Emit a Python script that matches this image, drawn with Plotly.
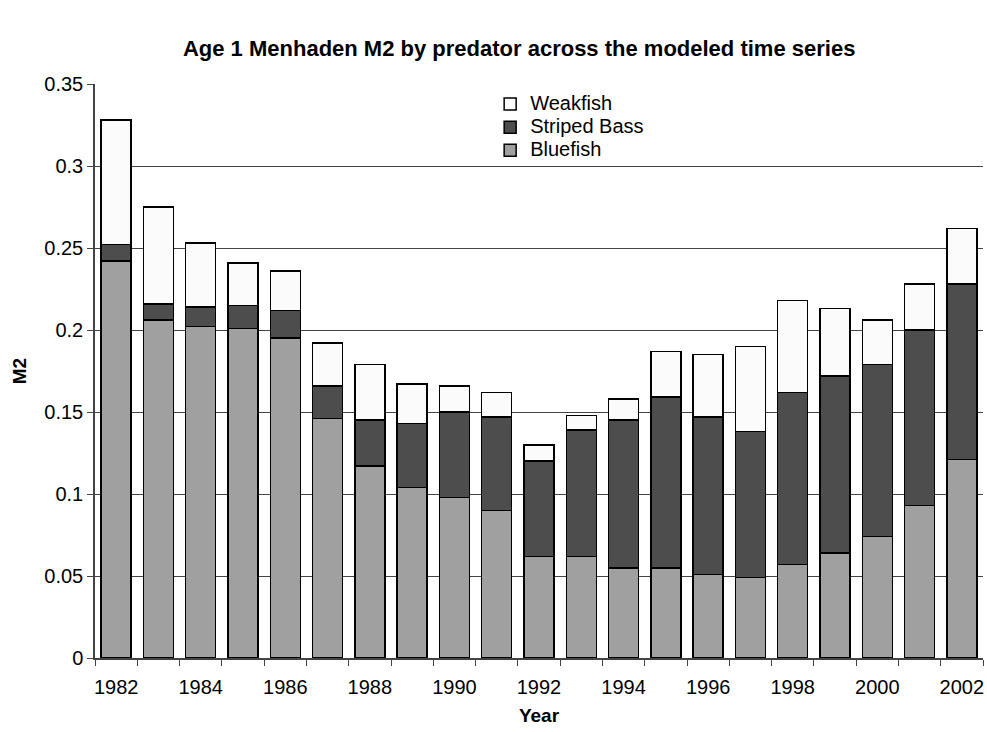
import plotly.graph_objects as go

# Age-1 menhaden predation mortality (M2) by predator, 1982-2002
years = list(range(1982, 2003))
bluefish = [0.242, 0.206, 0.202, 0.201, 0.195, 0.146, 0.117, 0.104, 0.098, 0.090,
            0.062, 0.062, 0.055, 0.055, 0.051, 0.049, 0.057, 0.064, 0.074, 0.093, 0.121]
striped_bass = [0.010, 0.010, 0.012, 0.014, 0.017, 0.020, 0.028, 0.039, 0.052, 0.057,
                0.058, 0.077, 0.090, 0.104, 0.096, 0.089, 0.105, 0.108, 0.105, 0.107, 0.107]
weakfish = [0.076, 0.059, 0.039, 0.026, 0.024, 0.026, 0.034, 0.024, 0.016, 0.015,
            0.010, 0.009, 0.013, 0.028, 0.038, 0.052, 0.056, 0.041, 0.027, 0.028, 0.034]
tick_years = list(range(1982, 2003, 2))
tick_labels = [str(y) for y in tick_years]

font_family = "Liberation Sans, Arial, sans-serif"
outline = dict(color="#000000", width=1.5)


def legend_label(text):
    # larger glyphs inside a compact legend row
    return f'<span style="font-size:20px">{text}</span>'


fig = go.Figure()
fig.add_trace(go.Bar(x=years, y=bluefish, name=legend_label("Bluefish"),
                     marker=dict(color="#a0a0a0", line=outline), width=0.71))
fig.add_trace(go.Bar(x=years, y=striped_bass, name=legend_label("Striped Bass"),
                     marker=dict(color="#4d4d4d", line=outline), width=0.71))
fig.add_trace(go.Bar(x=years, y=weakfish, name=legend_label("Weakfish"),
                     marker=dict(color="#fbfbfb", line=outline), width=0.71))

fig.update_layout(
    barmode="stack",
    width=987, height=732,
    paper_bgcolor="white", plot_bgcolor="white",
    margin=dict(l=95, r=4, t=84, b=74),
    font=dict(family=font_family, size=20, color="#000000"),
    title=dict(text="<b>Age 1 Menhaden M2 by predator across the modeled time series</b>",
               x=0.526, xanchor="center", y=1 - 48 / 732, yanchor="middle",
               yref="container", font=dict(size=22)),
    legend=dict(x=0.445, y=0.994, xanchor="left", yanchor="top",
                traceorder="reversed", bgcolor="rgba(0,0,0,0)",
                font=dict(size=15.5), itemwidth=30,
                tracegroupgap=0),
    showlegend=True,
)

fig.update_xaxes(
    range=[1981.5, 2002.5],
    tickmode="array", tickvals=tick_years, ticktext=tick_labels,
    ticks="outside", ticklen=10, tickcolor="rgba(0,0,0,0)",
    minor=dict(tickmode="linear", tick0=1981.5, dtick=1, ticks="outside",
               ticklen=6, tickcolor="#444444", showgrid=False),
    showgrid=False, zeroline=False,
    showline=True, linecolor="#444444", linewidth=1.5,
    tickfont=dict(size=20),
    title=dict(text="<b>Year</b>", font=dict(size=19), standoff=12),
)

fig.update_yaxes(
    range=[0, 0.35], tick0=0, dtick=0.05,
    ticks="outside", ticklen=6, tickcolor="#444444",
    showgrid=True, gridcolor="#444444", gridwidth=1,
    zeroline=False,
    showline=True, linecolor="#444444", linewidth=1.5,
    tickfont=dict(size=20),
    title=dict(text="<b>M2</b>", font=dict(size=19), standoff=13),
)

fig.write_html("out.html")
